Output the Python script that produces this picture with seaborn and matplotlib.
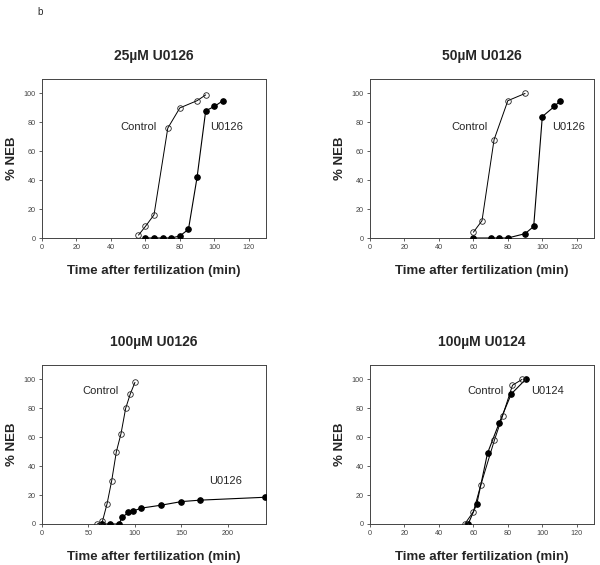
import matplotlib
matplotlib.use("Agg")
import matplotlib.pyplot as plt
import seaborn as sns
import pandas as pd

# ---- data ----
titles = ["25µM U0126", "50µM U0126", "100µM U0126", "100µM U0124"]
treat_names = ["U0126", "U0126", "U0126", "U0124"]

p1_ctrl_x = [56, 60, 65, 73, 80, 90, 95]
p1_ctrl_y = [2, 8, 16, 76, 90, 95, 99]
p1_trt_x = [60, 65, 70, 75, 80, 85, 90, 95, 100, 105]
p1_trt_y = [0, 0, 0, 0, 1.4, 6, 42, 88, 91, 95]

p2_ctrl_x = [60, 65, 72, 80, 90]
p2_ctrl_y = [4, 12, 68, 95, 100]
p2_trt_x = [60, 70, 75, 80, 90, 95, 100, 107, 110]
p2_trt_y = [0, 0, 0, 0, 3, 8, 84, 91, 94.5]

p3_ctrl_x = [59.5, 65, 70, 75, 80, 85, 90, 95, 100]
p3_ctrl_y = [0, 1.8, 14, 30, 50, 62.5, 80, 90, 98]
p3_trt_x = [65, 73, 83, 86, 93, 98, 107, 128, 150, 170, 240]
p3_trt_y = [0, 0, 0, 4.5, 8, 9, 11, 13, 15.5, 16.5, 18.5]

p4_ctrl_x = [55, 60, 64.3, 72.2, 77, 82.7, 88.2]
p4_ctrl_y = [0, 8.5, 27, 58, 75, 96, 100]
p4_trt_x = [57, 62, 68.2, 75, 82, 90.3]
p4_trt_y = [0, 14, 49, 70, 90, 100]

xlims = [130, 130, 241, 130]
xticks = [[0, 20, 40, 60, 80, 100, 120]] * 2 + [[0, 50, 100, 150, 200]] + [[0, 20, 40, 60, 80, 100, 120]]
yticks = [0, 20, 40, 60, 80, 100]

ctrl_label_pos = [(56, 77), (58, 77), (63, 92), (67, 92)]
trt_label_pos = [(107, 77), (115, 77), (197, 29.5), (103, 92)]

panels = [
    (p1_ctrl_x, p1_ctrl_y, p1_trt_x, p1_trt_y),
    (p2_ctrl_x, p2_ctrl_y, p2_trt_x, p2_trt_y),
    (p3_ctrl_x, p3_ctrl_y, p3_trt_x, p3_trt_y),
    (p4_ctrl_x, p4_ctrl_y, p4_trt_x, p4_trt_y),
]

sns.set_style("ticks")
plt.rcParams['font.family'] = ['Liberation Sans', 'DejaVu Sans']

fig = plt.figure(figsize=(6, 5.65), dpi=100)
W, H = 600, 565
boxes = [(42, 79), (370, 79), (42, 365), (370, 365)]
aw, ah = 224, 159

for i, (cx, cy, tx, ty) in enumerate(panels):
    l, t = boxes[i]
    ax = fig.add_axes([l / W, 1 - (t + ah) / H, aw / W, ah / H])
    ctrl = pd.DataFrame({"x": cx, "y": cy})
    trt = pd.DataFrame({"x": tx, "y": ty})
    sns.lineplot(data=trt, x="x", y="y", ax=ax, color="black", linewidth=0.8,
                 marker="o", markersize=4.0, markerfacecolor="black",
                 markeredgecolor="black", zorder=3, sort=False)
    sns.lineplot(data=ctrl, x="x", y="y", ax=ax, color="black", linewidth=0.7,
                 marker="o", markersize=4.0, markerfacecolor="none",
                 markeredgecolor="#222222", markeredgewidth=0.6, zorder=4, sort=False)
    ax.set_xlim(0, xlims[i])
    ax.set_ylim(0, 110)
    ax.set_xticks(xticks[i])
    ax.set_yticks(yticks)
    ax.tick_params(labelsize=5.2, length=2.5, width=0.6, direction="out", pad=2,
                   colors="#444444", labelcolor="#444444")
    for s in ax.spines.values():
        s.set_linewidth(0.7)
        s.set_color("#444444")
    ax.set_title(titles[i], fontsize=10, fontweight="bold", pad=14)
    ax.set_xlabel("Time after fertilization (min)", fontsize=9.5, fontweight="bold", labelpad=10)
    ax.set_ylabel("% NEB", fontsize=9.5, fontweight="bold", labelpad=4)
    ax.text(*ctrl_label_pos[i], "Control", fontsize=8, ha="center", va="center")
    ax.text(*trt_label_pos[i], treat_names[i], fontsize=8, ha="center", va="center")

fig.text(40 / W, 1 - 12 / H, "b", fontsize=7, ha="center", va="center")

fig.savefig("out.png", dpi=100)
